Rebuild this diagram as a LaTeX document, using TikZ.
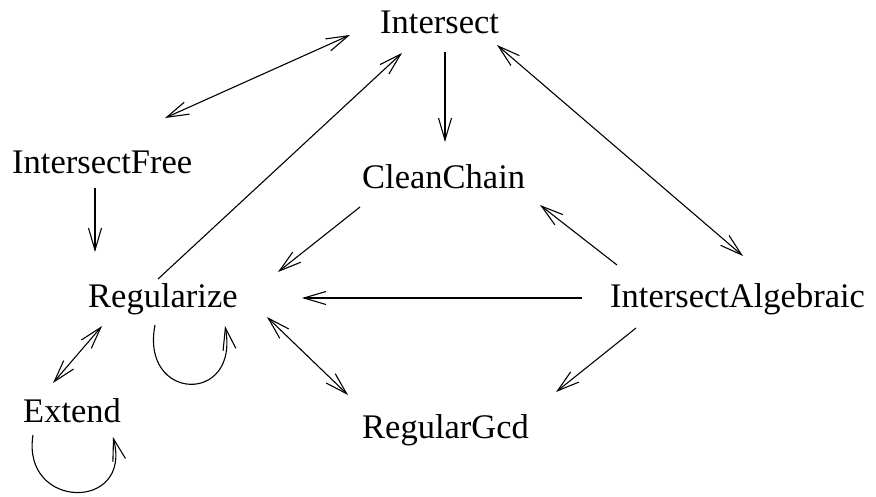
\documentclass[tikz,border=0pt]{standalone}
\usepackage{fontspec}
\setmainfont{Liberation Serif}
\usetikzlibrary{arrows.meta}
\begin{document}
\begin{tikzpicture}[x=1pt,y=-1pt,
  lbl/.style={anchor=base west,inner sep=0pt,font=\fontsize{34.5}{40}\selectfont},
  edge/.style={line width=1.1pt},
  >={Straight Barb[length=22pt,width=13pt,line width=1.1pt]}]
\useasboundingbox (0,0) rectangle (876,496);
\node[lbl] (Intersect) at (380,33) {Intersect};
\node[lbl] (IntersectFree) at (12,173) {IntersectFree};
\node[lbl] (CleanChain) at (362,188) {CleanChain};
\node[lbl] (Regularize) at (88,307) {Regularize};
\node[lbl] (IntersectAlgebraic) at (610,307) {IntersectAlgebraic};
\node[lbl] (RegularGcd) at (362,438) {RegularGcd};
\node[lbl] (Extend) at (23,422) {Extend};

\draw[edge,<->] ([shift={(-30,2)}]Intersect.base west) -- ([shift={(153,-55)}]IntersectFree.base west);
\draw[edge,->] ([shift={(70,-28)}]Regularize.base west) -- ([shift={(22,20)}]Intersect.base west);
\draw[edge,->] ([shift={(65,19)}]Intersect.base west) -- ([shift={(83,-46)}]CleanChain.base west);
\draw[edge,<->] ([shift={(117,12)}]Intersect.base west) -- ([shift={(133,-51)}]IntersectAlgebraic.base west);
\draw[edge,->] ([shift={(83,15)}]IntersectFree.base west) -- ([shift={(7,-55)}]Regularize.base west);
\draw[edge,->] ([shift={(-2,19)}]CleanChain.base west) -- ([shift={(190,-35)}]Regularize.base west);
\draw[edge,->] ([shift={(7,-42)}]IntersectAlgebraic.base west) -- ([shift={(178,17)}]CleanChain.base west);
\draw[edge,->] ([shift={(-28,-9)}]IntersectAlgebraic.base west) -- ([shift={(214,-9)}]Regularize.base west);
\draw[edge,->] ([shift={(26,21)}]IntersectAlgebraic.base west) -- ([shift={(194,-46)}]RegularGcd.base west);
\draw[edge,<->] ([shift={(179,10)}]Regularize.base west) -- ([shift={(-14,-43)}]RegularGcd.base west);
\draw[edge,<->] ([shift={(14,19)}]Regularize.base west) -- ([shift={(30,-39)}]Extend.base west);
\draw[edge,->] ([shift={(67,18)}]Regularize.base west) .. controls +(-15,77) and +(15,79) .. ([shift={(137,19)}]Regularize.base west);
\draw[edge,->] ([shift={(10,13)}]Extend.base west) .. controls +(-12,75) and +(20,75) .. ([shift={(90,15)}]Extend.base west);
\end{tikzpicture}
\end{document}
